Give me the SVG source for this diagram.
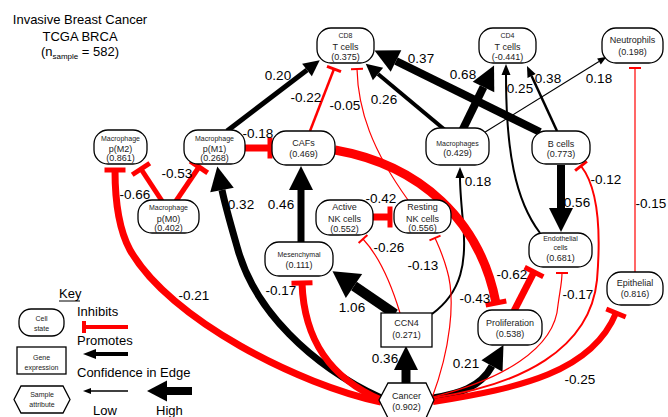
<svg xmlns="http://www.w3.org/2000/svg" width="668" height="417" viewBox="0 0 668 417">
<style>
.n{fill:#fff;stroke:#000;stroke-width:1.3}
.t{font-family:"Liberation Sans",Arial,sans-serif;fill:#222;text-anchor:middle;font-size:9px}
.s{font-size:7px}
.lbl{font-family:"Liberation Sans",Arial,sans-serif;font-size:13.5px;fill:#000;text-anchor:middle}
.kt{font-family:"Liberation Sans",Arial,sans-serif;font-size:13px;fill:#000}
.p{fill:none;stroke:#000}
.i{fill:none;stroke:#f00}
</style>
<defs>
<marker id="aXS" markerUnits="userSpaceOnUse" orient="auto" refX="0" refY="0" markerWidth="10" markerHeight="10" overflow="visible"><path d="M0,-3.5 L9,0 L0,3.5 z" fill="#000"/></marker>
<marker id="aS" markerUnits="userSpaceOnUse" orient="auto" refX="0" refY="0" markerWidth="10" markerHeight="10" overflow="visible"><path d="M0,-4.5 L11,0 L0,4.5 z" fill="#000"/></marker>
<marker id="aM" markerUnits="userSpaceOnUse" orient="auto" refX="0" refY="0" markerWidth="10" markerHeight="10" overflow="visible"><path d="M0,-8 L16,0 L0,8 z" fill="#000"/></marker>
<marker id="aL" markerUnits="userSpaceOnUse" orient="auto" refX="0" refY="0" markerWidth="10" markerHeight="10" overflow="visible"><path d="M0,-12 L24,0 L0,12 z" fill="#000"/></marker>
<marker id="aXL" markerUnits="userSpaceOnUse" orient="auto" refX="0" refY="0" markerWidth="10" markerHeight="10" overflow="visible"><path d="M0,-14.5 L26,0 L0,14.5 z" fill="#000"/></marker>
<marker id="tS" markerUnits="userSpaceOnUse" orient="auto" refX="0" refY="0" markerWidth="10" markerHeight="10" overflow="visible"><rect x="-1" y="-6" width="2" height="12" fill="#f00"/></marker>
<marker id="tM" markerUnits="userSpaceOnUse" orient="auto" refX="0" refY="0" markerWidth="10" markerHeight="10" overflow="visible"><rect x="-1.5" y="-7.5" width="3" height="15" fill="#f00"/></marker>
<marker id="tL" markerUnits="userSpaceOnUse" orient="auto" refX="0" refY="0" markerWidth="10" markerHeight="10" overflow="visible"><rect x="-2.5" y="-10.5" width="5" height="21" fill="#f00"/></marker>
</defs>

<g id="title">
<text class="kt" x="80" y="24" text-anchor="middle" font-size="12">Invasive Breast Cancer</text>
<text class="kt" x="80" y="41" text-anchor="middle" font-size="12">TCGA BRCA</text>
<text class="kt" x="80" y="56" text-anchor="middle" font-size="12">(n<tspan font-size="8" dy="3">sample</tspan><tspan dy="-3"> = 582)</tspan></text>
</g>

<g id="connectors">
<!-- promotes -->
<path class="p" stroke-width="5" d="M227,131 L307,70" marker-end="url(#aM)"/>
<path class="p" stroke-width="4" d="M445,130 L378,74" marker-end="url(#aM)"/>
<path class="p" stroke-width="8" d="M540,132 L396,61" marker-end="url(#aL)"/>
<path class="p" stroke-width="8" d="M462,131 L483.5,87" marker-end="url(#aL)"/>
<path class="p" stroke-width="2" d="M540,233 C515,200 506,150 506,75" marker-end="url(#aS)"/>
<path class="p" stroke-width="2.5" d="M557,131 L531.6,76" marker-end="url(#aS)"/>
<path class="p" stroke-width="1.2" d="M482,134 L599,61.5" marker-end="url(#aXS)"/>
<path class="p" stroke-width="7" d="M301,243 L301,190" marker-end="url(#aL)"/>
<path class="p" stroke-width="7" d="M381,398 C310,365 255,310 238,250 C230,222 225,205 222,190" marker-end="url(#aL)"/>
<path class="p" stroke-width="10" d="M395,314 L354,286" marker-end="url(#aXL)"/>
<path class="p" stroke-width="2" d="M432,314 C462,292 467,262 463,222 C461,200 460,190 460,178" marker-end="url(#aS)"/>
<path class="p" stroke-width="9" d="M406,384 L406,370" marker-end="url(#aL)"/>
<path class="p" stroke-width="7" d="M433,398 C458,394 480,388 492,366" marker-end="url(#aL)"/>
<path class="p" stroke-width="8" d="M561,165 L561,208" marker-end="url(#aL)"/>
<!-- inhibits -->
<path class="i" stroke-width="2.5" d="M310,131 L334,69" marker-end="url(#tM)"/>
<path class="i" stroke-width="1.2" d="M408,200 C372,150 358,110 357,69" marker-end="url(#tS)"/>
<path class="i" stroke-width="7" d="M245,148 L270,148" marker-end="url(#tL)"/>
<path class="i" stroke-width="5" d="M162,201 L141,169" marker-end="url(#tL)"/>
<path class="i" stroke-width="5" d="M176,201 L199,167" marker-end="url(#tL)"/>
<path class="i" stroke-width="7" d="M373,217 L390,217" marker-end="url(#tL)"/>
<path class="i" stroke-width="1.2" d="M400,313 C390,280 378,255 363,239" marker-end="url(#tS)"/>
<path class="i" stroke-width="1.2" d="M432,398 C450,350 456,300 447,270 C443,255 438,245 435,238" marker-end="url(#tS)"/>
<path class="i" stroke-width="9" d="M335,150 C420,165 480,220 496,303" marker-end="url(#tL)"/>
<path class="i" stroke-width="7" d="M514,311 L534,272" marker-end="url(#tL)"/>
<path class="i" stroke-width="1.2" d="M433,397 C500,380 555,350 558,305 C560,290 562,282 562,273" marker-end="url(#tS)"/>
<path class="i" stroke-width="2" d="M433,398 C520,385 590,350 597,280 C602,220 596,185 581,166" marker-end="url(#tM)"/>
<path class="i" stroke-width="6" d="M433,402 C520,388 592,372 616,313" marker-end="url(#tL)"/>
<path class="i" stroke-width="7" d="M381,402 C300,385 170,320 130,250 C118,228 115,200 115,170" marker-end="url(#tL)"/>
<path class="i" stroke-width="7" d="M381,400 C330,378 304,340 302,283" marker-end="url(#tL)"/>
<path class="i" stroke-width="1.2" d="M635,272 L635,68" marker-end="url(#tS)"/>
</g>

<g id="edge-labels">
<text class="lbl" x="278" y="80">0.20</text>
<text class="lbl" x="306" y="102">-0.22</text>
<text class="lbl" x="345" y="110">-0.05</text>
<text class="lbl" x="384" y="104">0.26</text>
<text class="lbl" x="421" y="63">0.37</text>
<text class="lbl" x="463" y="79">0.68</text>
<text class="lbl" x="520" y="93">0.25</text>
<text class="lbl" x="548" y="83">0.38</text>
<text class="lbl" x="599" y="83">0.18</text>
<text class="lbl" x="258" y="138">-0.18</text>
<text class="lbl" x="177" y="178">-0.53</text>
<text class="lbl" x="135" y="199">-0.66</text>
<text class="lbl" x="241" y="209">0.32</text>
<text class="lbl" x="281" y="209">0.46</text>
<text class="lbl" x="381" y="203">-0.42</text>
<text class="lbl" x="389" y="252">-0.26</text>
<text class="lbl" x="423" y="270">-0.13</text>
<text class="lbl" x="478" y="186">0.18</text>
<text class="lbl" x="606" y="184">-0.12</text>
<text class="lbl" x="577" y="207">0.56</text>
<text class="lbl" x="651" y="208">-0.15</text>
<text class="lbl" x="512" y="279">-0.62</text>
<text class="lbl" x="578" y="299">-0.17</text>
<text class="lbl" x="475" y="303">-0.43</text>
<text class="lbl" x="281" y="295">-0.17</text>
<text class="lbl" x="352" y="312">1.06</text>
<text class="lbl" x="385" y="363">0.36</text>
<text class="lbl" x="466" y="368">0.21</text>
<text class="lbl" x="194" y="300">-0.21</text>
<text class="lbl" x="580" y="384">-0.25</text>
</g>

<g id="cd8"><rect class="n" x="317" y="28" width="57" height="35" rx="14"/><text class="t s" x="345.5" y="38">CD8</text><text class="t" x="345.5" y="50">T cells</text><text class="t" x="345.5" y="60">(0.375)</text></g>
<g id="cd4"><rect class="n" x="479" y="28" width="57" height="35" rx="14"/><text class="t s" x="507.5" y="38">CD4</text><text class="t" x="507.5" y="50">T cells</text><text class="t" x="507.5" y="60">(-0.441)</text></g>
<g id="neutrophils"><rect class="n" x="602" y="28" width="61" height="35" rx="14"/><text class="t" x="632.5" y="43" font-size="7.5">Neutrophils</text><text class="t" x="632.5" y="55">(0.198)</text></g>
<g id="m2"><rect class="n" x="94" y="130" width="53" height="34" rx="14"/><text class="t s" x="120.5" y="141">Macrophage</text><text class="t" x="120.5" y="152">p(M2)</text><text class="t" x="120.5" y="161">(0.861)</text></g>
<g id="m1"><rect class="n" x="184" y="130" width="61" height="34" rx="14"/><text class="t s" x="214.5" y="141">Macrophage</text><text class="t" x="214.5" y="152">p(M1)</text><text class="t" x="214.5" y="161">(0.268)</text></g>
<g id="cafs"><rect class="n" x="272" y="131" width="63" height="34" rx="14"/><text class="t" x="303.5" y="146">CAFs</text><text class="t" x="303.5" y="157">(0.469)</text></g>
<g id="m0"><rect class="n" x="138" y="200" width="61" height="33" rx="14"/><text class="t s" x="168.5" y="210">Macrophage</text><text class="t" x="168.5" y="222">p(M0)</text><text class="t" x="168.5" y="231">(0.402)</text></g>
<g id="macrophages"><rect class="n" x="426" y="128" width="63" height="37" rx="14"/><text class="t s" x="457.5" y="146">Macrophages</text><text class="t" x="457.5" y="156">(0.429)</text></g>
<g id="bcells"><rect class="n" x="532" y="131" width="58" height="33" rx="14"/><text class="t" x="561" y="146.5">B cells</text><text class="t" x="561" y="157">(0.773)</text></g>
<g id="activenk"><rect class="n" x="316" y="200" width="57" height="35" rx="14"/><text class="t" x="344.5" y="210">Active</text><text class="t" x="344.5" y="222">NK cells</text><text class="t" x="344.5" y="232">(0.552)</text></g>
<g id="restingnk"><rect class="n" x="394" y="200" width="57" height="33" rx="14"/><text class="t" x="422.5" y="210">Resting</text><text class="t" x="422.5" y="222">NK cells</text><text class="t" x="422.5" y="231">(0.556)</text></g>
<g id="mesenchymal"><rect class="n" x="265" y="242" width="68" height="34" rx="14"/><text class="t s" x="299" y="257">Mesenchymal</text><text class="t" x="299" y="268">(0.111)</text></g>
<g id="endothelial"><rect class="n" x="529" y="233" width="63" height="34" rx="14"/><text class="t s" x="560.5" y="241">Endothelial</text><text class="t s" x="560.5" y="250">cells</text><text class="t" x="560.5" y="261">(0.681)</text></g>
<g id="epithelial"><rect class="n" x="607" y="272" width="56" height="33" rx="14"/><text class="t" x="635" y="286" font-size="8.5">Epithelial</text><text class="t" x="635" y="297">(0.816)</text></g>
<g id="ccn4"><rect class="n" x="381" y="313" width="51" height="34"/><text class="t" x="406.5" y="326" font-size="8.5">CCN4</text><text class="t" x="406.5" y="338">(0.271)</text></g>
<g id="proliferation"><rect class="n" x="478" y="310" width="64" height="35" rx="14"/><text class="t" x="510" y="326" font-size="7.5">Proliferation</text><text class="t" x="510" y="337">(0.538)</text></g>
<g id="cancer"><polygon class="n" points="388,383 426,383 434,400 426,418 388,418 379,400"/><text class="t" x="406.5" y="399" font-size="8.5">Cancer</text><text class="t" x="406.5" y="410">(0.902)</text></g>

<g id="key">
<text class="kt" x="59" y="298">Key</text>
<line x1="59" y1="301" x2="80" y2="301" stroke="#000" stroke-width="1"/>
<rect class="n" x="19" y="309" width="45" height="27" rx="12"/>
<text class="t s" x="41.5" y="321">Cell</text><text class="t s" x="41.5" y="331">state</text>
<rect class="n" x="17" y="347" width="49" height="27"/>
<text class="t s" x="41.5" y="360">Gene</text><text class="t s" x="41.5" y="370">expression</text>
<polygon class="n" points="21,386 63,386 70,399.5 63,413 21,413 14,399.5"/>
<text class="t s" x="42" y="397">Sample</text><text class="t s" x="42" y="407">attribute</text>
<text class="kt" x="77" y="316">Inhibits</text>
<line x1="84" y1="327" x2="128" y2="327" stroke="#f00" stroke-width="4"/>
<rect x="82" y="321" width="4" height="12" fill="#f00"/>
<text class="kt" x="77" y="345">Promotes</text>
<line x1="95" y1="354" x2="128" y2="354" stroke="#000" stroke-width="4"/>
<polygon points="83,354 96,349 96,359" fill="#000"/>
<text class="kt" x="77" y="377">Confidence in Edge</text>
<line x1="90" y1="391" x2="128" y2="391" stroke="#000" stroke-width="1.5"/>
<polygon points="83,391 91,388 91,394" fill="#000"/>
<line x1="166" y1="391" x2="192" y2="391" stroke="#000" stroke-width="8"/>
<polygon points="147,391 167,380.5 167,401.5" fill="#000"/>
<text class="kt" x="93" y="415">Low</text>
<text class="kt" x="156" y="415">High</text>
</g>
</svg>
